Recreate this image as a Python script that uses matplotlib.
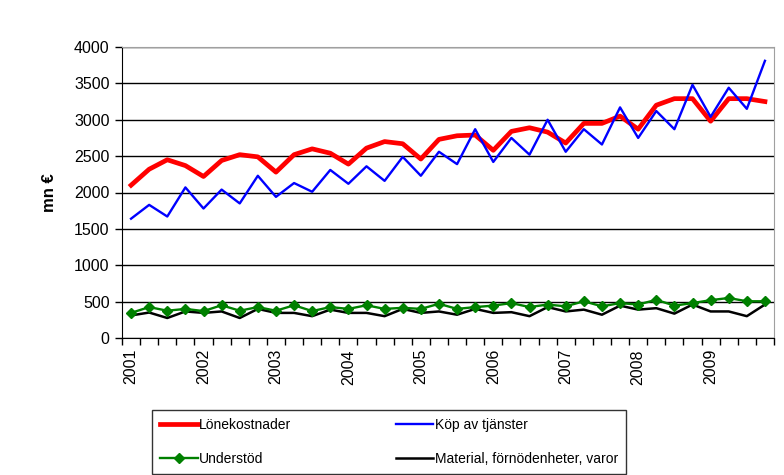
import numpy as np
import matplotlib
matplotlib.use('Agg')
import matplotlib.pyplot as plt

plt.rcParams['font.family'] = ['Liberation Sans', 'DejaVu Sans']

# quarterly values 2001Q1 - 2009Q4, mn €
years = [str(y) for y in range(2001, 2010)]

lonekostnader = [2100, 2320, 2450, 2370, 2220, 2440, 2520, 2490, 2280, 2520, 2600, 2540,
                 2390, 2610, 2700, 2670, 2460, 2730, 2780, 2790, 2580, 2840, 2890, 2830,
                 2680, 2950, 2950, 3050, 2870, 3200, 3290, 3290, 2980, 3290, 3290, 3250]

kop_av_tjanster = [1640, 1830, 1670, 2070, 1780, 2040, 1850, 2230, 1940, 2130, 2010, 2310,
                   2120, 2360, 2160, 2490, 2230, 2560, 2390, 2870, 2420, 2750, 2520, 3000,
                   2560, 2870, 2660, 3170, 2750, 3120, 2870, 3480, 3040, 3440, 3150, 3810]

understod = [345, 425, 375, 400, 370, 450, 375, 425, 375, 450, 370, 425,
             400, 450, 400, 415, 400, 470, 400, 425, 445, 480, 425, 460,
             435, 505, 435, 480, 460, 525, 445, 480, 520, 550, 505, 505]

material = [310, 350, 275, 365, 345, 365, 275, 400, 345, 345, 300, 390,
            345, 345, 300, 400, 345, 365, 320, 400, 345, 355, 300, 425,
            365, 390, 320, 445, 390, 410, 335, 460, 365, 365, 300, 460]

x = np.arange(len(lonekostnader))

fig = plt.figure(figsize=(7.84, 4.75), dpi=100)
ax = fig.add_axes([122 / 784, 1 - 338 / 475, (774 - 122) / 784, (338 - 47) / 475])

l1, = ax.plot(x, lonekostnader, color='#ff0000', lw=3.4, label='Lönekostnader', zorder=4)
l2, = ax.plot(x, kop_av_tjanster, color='#0000ff', lw=1.7, label='Köp av tjänster', zorder=5)
l3, = ax.plot(x, understod, color='#008000', lw=1.7, marker='D', markersize=5,
              label='Understöd', zorder=4)
l4, = ax.plot(x, material, color='#000000', lw=1.8, label='Material, förnödenheter, varor', zorder=3)

ax.set_xlim(-0.5, len(x) - 0.5)
ax.set_ylim(0, 4000)
ax.set_yticks(np.arange(0, 4001, 500))
ax.yaxis.grid(True, color='black', lw=1)
ax.set_axisbelow(True)

ax.set_xticks(np.arange(0, len(x), 4))
ax.set_xticklabels(years, rotation=90)
ax.set_xticks(np.arange(-0.5, len(x), 1), minor=True)
ax.tick_params(axis='x', which='major', length=0, pad=8, labelsize=11.5)
ax.tick_params(axis='x', which='minor', length=5, width=1, direction='out')
ax.tick_params(axis='y', length=5, width=1, direction='out', labelsize=11.5, pad=4)

for s in ['top', 'right']:
    ax.spines[s].set_color('#a0a0a0')
for s in ['left', 'bottom']:
    ax.spines[s].set_color('black')

ax.set_ylabel('mn €', fontsize=12, fontweight='bold', labelpad=12)

# matplotlib fills legend columns first, so order for row-wise reading
leg = fig.legend([l1, l3, l2, l4], [l1.get_label(), l3.get_label(), l2.get_label(), l4.get_label()],
                 loc='upper left', bbox_to_anchor=(152 / 784, 1 - 410 / 475), ncol=2,
                 fontsize=10, frameon=True, fancybox=False, edgecolor='black',
                 handlelength=2.7, handletextpad=0.1, columnspacing=7.5,
                 labelspacing=1.4, borderpad=0.6, borderaxespad=0)
leg.get_frame().set_linewidth(1)

fig.savefig('out.png', dpi=100)
